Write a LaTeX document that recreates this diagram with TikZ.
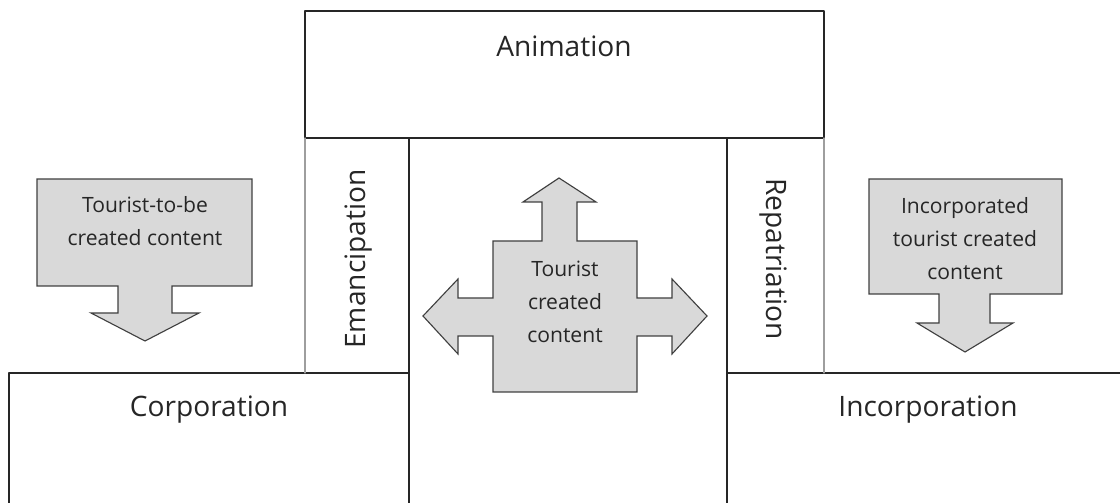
\documentclass[tikz,border=0pt]{standalone}
\usepackage{fontspec}
\setmainfont{Open Sans}
\usepackage{tkz-euclide}
\definecolor{ArrowClr}{rgb}{0.85,0.85,0.85}
\definecolor{EdgeClr}{rgb}{0.25,0.25,0.25}
\definecolor{SideClr}{rgb}{0.62,0.62,0.62}

\begin{document}
\begin{tikzpicture}[x=0.025cm,y=-0.025cm,
  bigtxt/.style={font=\fontsize{20}{24}\selectfont,text=black!85,inner sep=0pt,anchor=base},
  smalltxt/.style={font=\fontsize{15}{23.5}\selectfont,text=black!85,inner sep=0pt,anchor=base,align=center},
  arrowbox/.style={fill=ArrowClr,draw=EdgeClr,line width=0.8pt,line join=miter}]
\useasboundingbox (0,0) rectangle (1120,503);
\tkzSetUpLine[line width=1.1pt,color=black!85]

\tkzDefPoints{305/11/A1,824/11/A2,824/138/A3,305/138/A4,
  409/138/M1,727/138/M2,409/503/M3,727/503/M4,
  9/503/C1,9/373/C2,409/373/C3,727/373/I1,1120/373/I2,
  305/373/E1,824/373/R1}

\tkzDrawPolygon(A1,A2,A3,A4)
\tkzDrawSegments(M1,M3 M2,M4 C1,C2 C2,C3 I1,I2)
\tkzDrawSegments[line width=0.8pt,color=SideClr](A4,E1 A3,R1)

% arrows
\tkzDefPoints{37/179/L1,252/179/L2,252/286/L3,172/286/L4,172/313/L5,
  199/313/L6,145/341/L7,91/313/L8,118/313/L9,118/286/L10,37/286/L11}
\tkzDrawPolygon[arrowbox](L1,L2,L3,L4,L5,L6,L7,L8,L9,L10,L11)

\tkzDefPoints{869/179/R1,1062/179/R2,1062/294/R3,990/294/R4,990/323/R5,
  1013/323/R6,965/352/R7,917/323/R8,939/323/R9,939/294/R10,869/294/R11}
\tkzDrawPolygon[arrowbox](R1,R2,R3,R4,R5,R6,R7,R8,R9,R10,R11)

\tkzDefPoints{559/178/T1,596/202/T2,577/202/T3,577/241/T4,637/241/T5,
  637/298/T6,672/298/T7,672/279/T8,707/316/T9,672/354/T10,672/336/T11,
  637/336/T12,637/392/T13,493/392/T14,493/336/T15,458/336/T16,
  458/354/T17,423/316/T18,458/279/T19,458/298/T20,493/298/T21,
  493/241/T22,542/241/T23,542/202/T24,523/202/T25}
\tkzDrawPolygon[arrowbox](T1,T2,T3,T4,T5,T6,T7,T8,T9,T10,T11,T12,T13,
  T14,T15,T16,T17,T18,T19,T20,T21,T22,T23,T24,T25)

% labels
\node[bigtxt] (anim) at (564,57) {Animation};
\node[bigtxt] (corp) at (209,417) {Corporation};
\node[bigtxt] (incorp) at (928,417) {Incorporation};
\node[bigtxt,rotate=90] (eman) at (365,259) {Emancipation};
\node[bigtxt,rotate=-90] (repat) at (766,259) {Repatriation};

\node[smalltxt] (tobe) at (145,246) {Tourist-to-be\\created content};
\node[smalltxt] (incc) at (965,280) {Incorporated\\tourist created\\content};
\node[smalltxt] (tcc) at (565,343) {Tourist\\created\\content};

\end{tikzpicture}
\end{document}
